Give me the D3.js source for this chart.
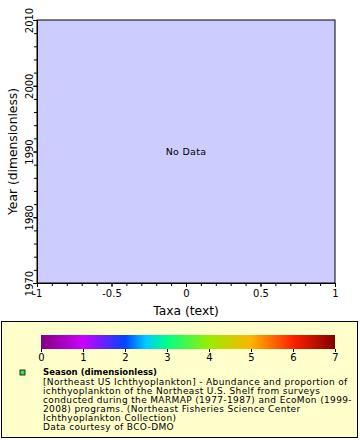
<!DOCTYPE html>
<html><head><meta charset="utf-8">
<script src="https://cdn.jsdelivr.net/npm/d3@7"></script>
<style>body{margin:0;background:#fff}svg{display:block;font-family:"DejaVu Sans",sans-serif}</style>
</head><body>
<svg id="c" width="360" height="440"></svg>
<script>
// ---- data ----
const xDomain = [-1, 1];
const xTicks = [-1, -0.5, 0, 0.5, 1];
const xTickLabels = ["-1", "-0.5", "0", "0.5", "1"];
const yDomain = [1970, 2010];
const yTicks = [1970, 1980, 1990, 2000, 2010];
const cbDomain = [0, 7];
const cbTicks = [0, 1, 2, 3, 4, 5, 6, 7];
const cbStops = [0, 1, 2, 2.5, 3, 4, 5, 6, 7];
const cbColors = ["#800080", "#cc00ff", "#0044ff", "#00ccff", "#00ff88", "#99ee00", "#ffb400", "#ff2000", "#800000"];
const points = []; // no data
const xLabel = "Taxa (text)";
const yLabel = "Year (dimensionless)";
const legendTitle = "Season (dimensionless)";
const legendLines = [
  "[Northeast US Ichthyoplankton] - Abundance and proportion of",
  "ichthyoplankton of the Northeast U.S. Shelf from surveys",
  "conducted during the MARMAP (1977-1987) and EcoMon (1999-",
  "2008) programs. (Northeast Fisheries Science Center",
  "Ichthyoplankton Collection)",
  "Data courtesy of BCO-DMO"
];

const svg = d3.select("#c");
const L = 37, R = 335, T = 20, B = 283;
const x = d3.scaleLinear().domain(xDomain).range([L, R]);
const y = d3.scaleLinear().domain(yDomain).range([B, T]);

svg.append("rect").attr("x", L).attr("y", T).attr("width", R - L).attr("height", B - T)
  .attr("fill", "#ccccff");

// points (none)
svg.selectAll("circle.pt").data(points).enter().append("circle")
  .attr("cx", d => x(d[0])).attr("cy", d => y(d[1])).attr("r", 2);

svg.append("text").attr("x", (L + R) / 2).attr("y", (T + B) / 2 + 3)
  .attr("text-anchor", "middle").attr("font-size", 9.5).attr("letter-spacing", 0.3).text("No Data");

// x axis
const xMinor = d3.range(-10, 11).map(i => i / 10);
const gx = svg.append("g").attr("transform", `translate(0,${B})`);
gx.call(d3.axisBottom(x).tickValues(xMinor).tickSize(3).tickFormat(""));
gx.call(g => g.append("g").call(d3.axisBottom(x).tickValues(xTicks).tickSize(4)
  .tickFormat((d, i) => xTickLabels[i])));
gx.selectAll("path.domain").attr("stroke", "#000");
gx.selectAll("text").attr("font-size", 10).attr("fill", "#000").attr("font-family", "DejaVu Sans");
gx.selectAll("line").attr("stroke", "#000");

// y axis
const yMinor = d3.range(1970, 2011, 2);
const gy = svg.append("g").attr("transform", `translate(${L},0)`);
gy.call(d3.axisLeft(y).tickValues(yMinor).tickSize(3).tickFormat(""));
gy.call(g => g.append("g").call(d3.axisLeft(y).tickValues(yTicks).tickSize(4)
  .tickFormat(d3.format("d"))));
gy.selectAll("g.tick text").attr("font-size", 10).attr("fill", "#000").attr("font-family", "DejaVu Sans")
  .attr("text-anchor", "middle").attr("dy", null)
  .attr("transform", function () { return "translate(-7.5,0) rotate(-90)"; })
  .attr("x", 0).attr("y", 0).attr("dominant-baseline", "middle");
gy.selectAll("line").attr("stroke", "#000");

// frame
svg.append("rect").attr("x", L).attr("y", T).attr("width", R - L).attr("height", B - T)
  .attr("fill", "none").attr("stroke", "#000").attr("stroke-width", 1);

// axis titles
svg.append("text").attr("x", (L + R) / 2).attr("y", 315).attr("text-anchor", "middle")
  .attr("font-size", 12.3).text(xLabel);
svg.append("text").attr("transform", `translate(17,${(T + B) / 2}) rotate(-90)`)
  .attr("text-anchor", "middle").attr("font-size", 12.3).text(yLabel);

// legend box
svg.append("rect").attr("x", 1.5).attr("y", 321.5).attr("width", 356).attr("height", 116)
  .attr("fill", "#ffffcc").attr("stroke", "#000").attr("stroke-width", 1);

// colorbar
const cx = d3.scaleLinear().domain(cbDomain).range([41, 335]);
const grad = svg.append("defs").append("linearGradient").attr("id", "cb");
cbStops.forEach((s, i) => grad.append("stop").attr("offset", (s / 7 * 100) + "%").attr("stop-color", cbColors[i]));
svg.append("rect").attr("x", cx(0)).attr("y", 335).attr("width", cx(7) - cx(0)).attr("height", 14)
  .attr("fill", "url(#cb)");
const gc = svg.append("g").attr("transform", "translate(0,349)");
gc.call(d3.axisBottom(cx).tickValues(cbTicks).tickSize(3).tickFormat(d3.format("d")));
gc.select("path.domain").remove();
gc.selectAll("text").attr("font-size", 10).attr("fill", "#000").attr("font-family", "DejaVu Sans").attr("dy", "0.55em");
gc.selectAll("line").attr("stroke", "#000");

// legend entry
svg.append("rect").attr("x", 20).attr("y", 370).attr("width", 5).attr("height", 5)
  .attr("fill", "#44dd55").attr("stroke", "#000").attr("stroke-width", 0.8);
svg.append("text").attr("x", 43).attr("y", 375).attr("font-size", 9).attr("font-weight", "bold")
  .attr("textLength", 114).attr("lengthAdjust", "spacingAndGlyphs").text(legendTitle);
svg.selectAll("text.ll").data(legendLines).enter().append("text").attr("class", "ll")
  .attr("x", 43).attr("y", (d, i) => 385 + i * 9).attr("font-size", 9).attr("letter-spacing", 0.36).text(d => d);
</script>
</body></html>
